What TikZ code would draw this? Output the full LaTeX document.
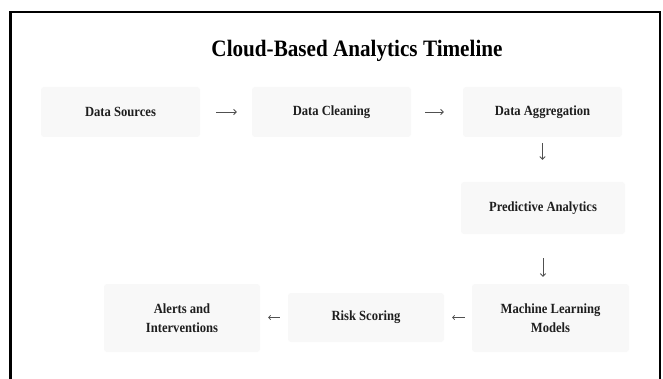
\documentclass[tikz,border=0pt]{standalone}
\usepackage{fontspec}
\setmainfont{Liberation Serif}[FakeStretch=0.9]
\usetikzlibrary{arrows.meta}
\definecolor{boxfill}{RGB}{248,248,248}
\definecolor{txt}{RGB}{30,30,30}
\definecolor{arr}{RGB}{80,80,80}
\tikzset{
  stagebox/.style={fill=boxfill, draw=none, rounded corners=3pt, inner sep=0pt,
    align=center, text=txt, font=\fontsize{14}{19}\selectfont\bfseries},
  flowarrow/.style={draw=arr, line width=0.9pt, -{Straight Barb[length=2.6pt,width=5.5pt]}},
  smallarrow/.style={draw=arr, line width=0.7pt, -{Straight Barb[length=2pt,width=4.5pt]}},
}
\begin{document}
\begin{tikzpicture}[x=1pt,y=-1pt]
\useasboundingbox (0,0) rectangle (663,379);
\fill[white] (0,0) rectangle (663,379);
% frame (bottom edge runs off the picture)
\draw[line width=2.5pt, black] (10.5,379) -- (10.5,12) -- (660,12) -- (660,379);
% title
\node[anchor=base, text=black, font=\fontsize{23.5}{28}\selectfont\bfseries] (title) at (357,56.5) {Cloud-Based Analytics Timeline};
% boxes
\node[stagebox, minimum width=159pt, minimum height=50pt] (src) at (120.5,112) {Data Sources};
\node[stagebox, minimum width=159pt, minimum height=50pt] (clean) at (331.5,112) {Data Cleaning};
\node[stagebox, minimum width=159pt, minimum height=50pt] (agg) at (542.5,112) {Data Aggregation};
\node[stagebox, minimum width=164pt, minimum height=52pt] (pred) at (543,208) {Predictive Analytics};
\node[stagebox, minimum width=157pt, minimum height=68pt] (ml) at (550.5,318) {Machine Learning\\Models};
\node[stagebox, minimum width=156pt, minimum height=49pt] (risk) at (366,317.5) {Risk Scoring};
\node[stagebox, minimum width=156pt, minimum height=68pt] (alert) at (182,318) {Alerts and\\Interventions};
% connectors
\draw[flowarrow, shorten <=16pt, shorten >=15pt] (src.east) -- (src.east -| clean.west);
\draw[flowarrow, shorten <=14pt, shorten >=19pt] (clean.east) -- (clean.east -| agg.west);
\draw[flowarrow, shorten <=6pt, shorten >=22pt] (agg.south) -- (agg.south |- pred.north);
\draw[flowarrow, shorten <=24pt, shorten >=7pt] (pred.south) -- (pred.south |- ml.north);
\draw[smallarrow, shorten <=7pt, shorten >=8pt] (ml.west |- risk.east) -- (risk.east);
\draw[smallarrow, shorten <=8pt, shorten >=8pt] (risk.west) -- (risk.west -| alert.east);
\end{tikzpicture}
\end{document}
